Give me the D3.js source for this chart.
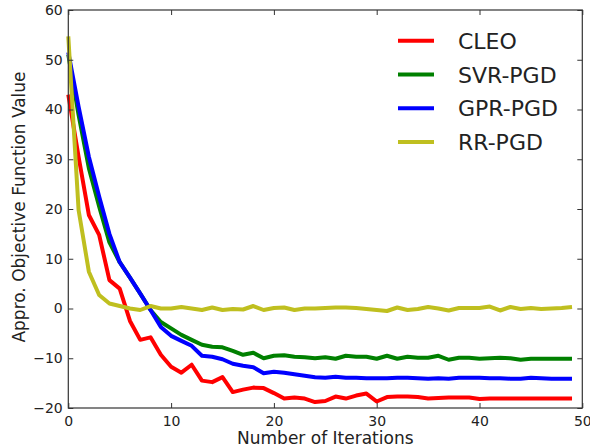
<!DOCTYPE html>
<html>
<head>
<meta charset="utf-8">
<script src="https://cdn.jsdelivr.net/npm/d3@7"></script>
<style>
  html, body { margin: 0; padding: 0; background: #fff; }
  svg { display: block; }
  text { font-family: "DejaVu Sans", sans-serif; fill: #222; }
</style>
</head>
<body>
<svg id="chart" width="590" height="448"></svg>
<script>
// ---- data ----
const iterations = d3.range(0, 50);
const seriesNames = ["CLEO", "SVR-PGD", "GPR-PGD", "RR-PGD"];
const seriesColors = ["#ff0000", "#008000", "#0000ff", "#bfbf1f"];

const cleo = [43, 30.5, 18.8, 14.8, 5.7, 4.0, -2.5, -6.3, -5.8, -9.3,
  -11.7, -12.9, -11.3, -14.5, -14.8, -13.8, -16.8, -16.3, -15.9, -16.0,
  -17.0, -18.1, -17.9, -18.1, -18.8, -18.6, -17.7, -18.1, -17.5, -17.1,
  -18.7, -17.8, -17.7, -17.7, -17.8, -18.1, -18.0, -17.9, -17.9, -17.9,
  -18.2, -18.1, -18.1, -18.1, -18.1, -18.1, -18.1, -18.1, -18.1, -18.1];

const svrPgd = [51.0, 38.9, 28.2, 20.5, 13.3, 9.3, 6.2, 3.0, -0.3, -2.7,
  -4.0, -5.3, -6.3, -7.3, -7.7, -7.8, -8.5, -9.3, -8.9, -10.0,
  -9.5, -9.4, -9.7, -9.8, -10.0, -9.8, -10.1, -9.5, -9.7, -9.7,
  -10.1, -9.5, -10.1, -9.7, -9.9, -9.9, -9.5, -10.3, -9.9, -9.9,
  -10.1, -10.0, -9.9, -10.0, -10.3, -10.1, -10.1, -10.1, -10.1, -10.1];

const gprPgd = [51.5, 40.6, 30.5, 22.5, 15.0, 9.3, 6.2, 3.0, -0.3, -3.7,
  -5.5, -6.5, -7.5, -9.5, -9.7, -10.2, -11.1, -11.5, -11.8, -13.0,
  -12.7, -12.9, -13.2, -13.5, -13.8, -13.9, -13.7, -13.9, -13.9, -14.0,
  -14.0, -14.0, -13.9, -13.9, -14.0, -14.1, -14.0, -14.1, -13.9, -13.9,
  -13.9, -14.0, -14.0, -14.1, -14.1, -13.9, -14.0, -14.1, -14.1, -14.1];

const rrPgd = [54.7, 19.8, 7.4, 2.7, 1.0, 0.5, 0.0, -0.3, 0.5, 0.0,
  0.0, 0.3, 0.0, -0.3, 0.2, -0.3, -0.1, -0.2, 0.5, -0.3,
  0.1, 0.2, -0.3, 0.0, 0.0, 0.1, 0.2, 0.2, 0.1, -0.1,
  -0.3, -0.5, 0.2, -0.3, -0.1, 0.3, 0.0, -0.4, 0.1, 0.1,
  0.1, 0.4, -0.4, 0.3, -0.1, 0.1, -0.1, 0.0, 0.1, 0.3];

const xTicks = [0, 10, 20, 30, 40, 50];
const yTicks = [-20, -10, 0, 10, 20, 30, 40, 50, 60];
const xLabel = "Number of Iterations";
const yLabel = "Appro. Objective Function Value";

const allSeries = [cleo, svrPgd, gprPgd, rrPgd];

// ---- layout ----
const svg = d3.select("#chart");
const pLeft = 68.3, pRight = 582.3, pTop = 10, pBottom = 408;

const x = d3.scaleLinear().domain([0, 50]).range([pLeft, pRight]);
const y = d3.scaleLinear().domain([-20, 60]).range([pBottom, pTop]);

// lines
const line = d3.line().x((d, i) => x(iterations[i])).y(d => y(d));
const plot = svg.append("g");
allSeries.forEach((s, k) => {
  plot.append("path")
    .datum(s)
    .attr("d", line)
    .attr("fill", "none")
    .attr("stroke", seriesColors[k])
    .attr("stroke-width", 4)
    .attr("stroke-linejoin", "round");
});

// axes with inward ticks
const tickLen = 5;
const axFont = 14;
function styleAxis(g) {
  g.select(".domain").remove();
  g.selectAll(".tick line").attr("stroke", "#333").attr("stroke-width", 1);
  g.selectAll(".tick text").attr("font-size", axFont).attr("fill", "#222")
    .attr("font-family", "DejaVu Sans, sans-serif");
}
svg.append("g").attr("transform", `translate(0,${pBottom})`)
  .call(d3.axisBottom(x).tickValues(xTicks).tickSize(-tickLen).tickPadding(8.5).tickFormat(d3.format("d")))
  .call(styleAxis);
svg.append("g").attr("transform", `translate(0,${pTop})`)
  .call(d3.axisTop(x).tickValues(xTicks).tickSize(-tickLen).tickFormat(""))
  .call(styleAxis);
svg.append("g").attr("transform", `translate(${pLeft},0)`)
  .call(d3.axisLeft(y).tickValues(yTicks).tickSize(-tickLen).tickPadding(5.6)
    .tickFormat(d => d < 0 ? "\u2212" + Math.abs(d) : String(d)))
  .call(styleAxis);
svg.append("g").attr("transform", `translate(${pRight},0)`)
  .call(d3.axisRight(y).tickValues(yTicks).tickSize(-tickLen).tickFormat(""))
  .call(styleAxis);

// frame
svg.append("rect")
  .attr("x", pLeft).attr("y", pTop)
  .attr("width", pRight - pLeft).attr("height", pBottom - pTop)
  .attr("fill", "none").attr("stroke", "#333").attr("stroke-width", 1.2);

// axis labels
svg.append("text")
  .attr("x", (pLeft + pRight) / 2).attr("y", 444)
  .attr("text-anchor", "middle").attr("font-size", 17)
  .text(xLabel);
svg.append("text")
  .attr("transform", `translate(25,${(pTop + pBottom) / 2 - 2}) rotate(-90)`)
  .attr("text-anchor", "middle").attr("font-size", 17)
  .text(yLabel);

// legend
const legY0 = 40.7, legDy = 33.8;
const leg = svg.append("g");
seriesNames.forEach((name, k) => {
  const yy = legY0 + k * legDy;
  leg.append("line")
    .attr("x1", 398).attr("x2", 434).attr("y1", yy).attr("y2", yy)
    .attr("stroke", seriesColors[k]).attr("stroke-width", 4);
  leg.append("text")
    .attr("x", 458).attr("y", yy + 8)
    .attr("font-size", 22)
    .attr("fill", k === 2 ? "#000" : "#222")
    .text(name);
});
</script>
</body>
</html>
